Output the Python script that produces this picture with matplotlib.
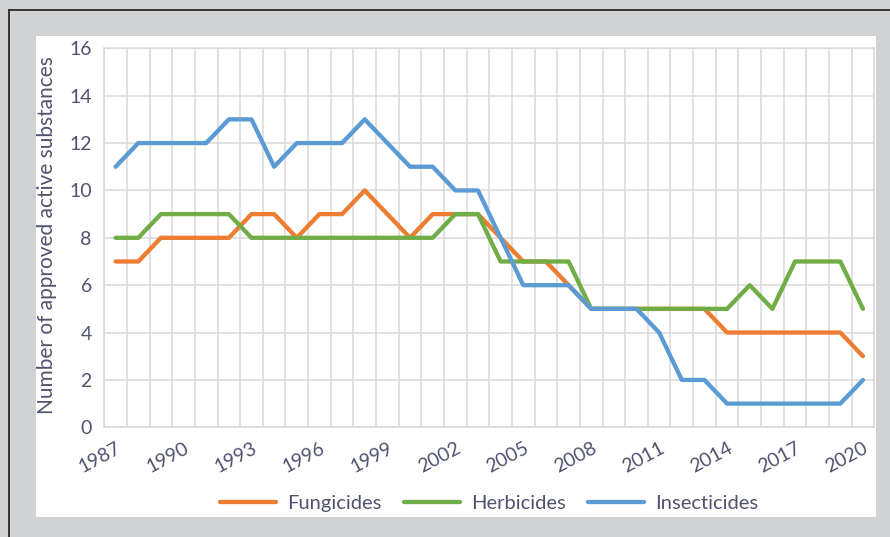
import matplotlib
matplotlib.use("Agg")
import matplotlib.pyplot as plt
from matplotlib.patches import Rectangle
from matplotlib.lines import Line2D

plt.rcParams['font.family'] = ['Lato', 'DejaVu Sans']

years = list(range(1987, 2021))
fungicides = [7, 7, 8, 8, 8, 8, 9, 9, 8, 9, 9, 10, 9, 8, 9, 9, 9, 8, 7, 7,
              6, 5, 5, 5, 5, 5, 5, 4, 4, 4, 4, 4, 4, 3]
herbicides = [8, 8, 9, 9, 9, 9, 8, 8, 8, 8, 8, 8, 8, 8, 8, 9, 9, 7, 7, 7,
              7, 5, 5, 5, 5, 5, 5, 5, 6, 5, 7, 7, 7, 5]
insecticides = [11, 12, 12, 12, 12, 13, 13, 11, 12, 12, 12, 13, 12, 11, 11, 10, 10, 8, 6, 6,
                6, 5, 5, 5, 4, 2, 2, 1, 1, 1, 1, 1, 1, 2]
series_names = ["Fungicides", "Herbicides", "Insecticides"]
series_colors = ["#ED7D31", "#70AD47", "#5B9BD5"]

txt_color = "#50536e"
grid_color = "#d9d9d9"

fig = plt.figure(figsize=(8.9, 5.37), dpi=100)
fig.patch.set_facecolor("#d1d2d4")

# white panel and dark frame lines (behind the axes)
fig.patches.append(Rectangle((36 / 890, 1 - 517 / 537), 840 / 890, 481 / 537,
                             transform=fig.transFigure, facecolor="white",
                             edgecolor="none", zorder=-2))
fig.lines.append(Line2D([9 / 890, 1], [1 - 9.5 / 537, 1 - 9.5 / 537],
                        transform=fig.transFigure, color="#333333", lw=1.4, zorder=-1))
fig.lines.append(Line2D([9 / 890, 9 / 890], [0, 1 - 9.5 / 537],
                        transform=fig.transFigure, color="#333333", lw=1.4, zorder=-1))

ax = fig.add_axes([104.3 / 890, 1 - 427.3 / 537, 770 / 890, 379 / 537])
ax.set_facecolor("white")

x = list(range(len(years)))
for name, vals, col in zip(series_names, [fungicides, herbicides, insecticides], series_colors):
    ax.plot(x, vals, color=col, lw=3.1, label=name,
            solid_capstyle="round", solid_joinstyle="round", zorder=3)

ax.set_xlim(-0.5, len(years) - 0.5)
ax.set_ylim(0, 16)
ax.set_yticks(range(0, 17, 2))
ax.set_xticks(x[::3])
ax.set_xticklabels([str(y) for y in years[::3]], rotation=28, ha="right", va="top",
                   rotation_mode="anchor")
ax.set_xticks([i - 0.5 for i in range(len(years) + 1)], minor=True)

ax.grid(False)
ax.grid(axis="x", which="minor", color=grid_color, lw=1.1)
ax.grid(axis="y", which="major", color=grid_color, lw=1.1)
ax.tick_params(axis="both", which="both", length=0, labelcolor=txt_color, labelsize=14)
ax.tick_params(axis="y", pad=9)
ax.tick_params(axis="x", pad=9)
for s in ax.spines.values():
    s.set_color(grid_color)
    s.set_linewidth(1.1)

fig.text(47 / 890, 1 - 235 / 537, "Number of approved active substances",
         rotation=90, ha="center", va="center", color=txt_color, fontsize=15)

fig.legend(loc="center", bbox_to_anchor=(489 / 890, 1 - 503 / 537), ncol=3,
           frameon=False, fontsize=14.5, handlelength=2.8, handletextpad=0.55,
           columnspacing=1.1, labelcolor=txt_color)

fig.savefig("out.png", dpi=100, facecolor=fig.get_facecolor())
